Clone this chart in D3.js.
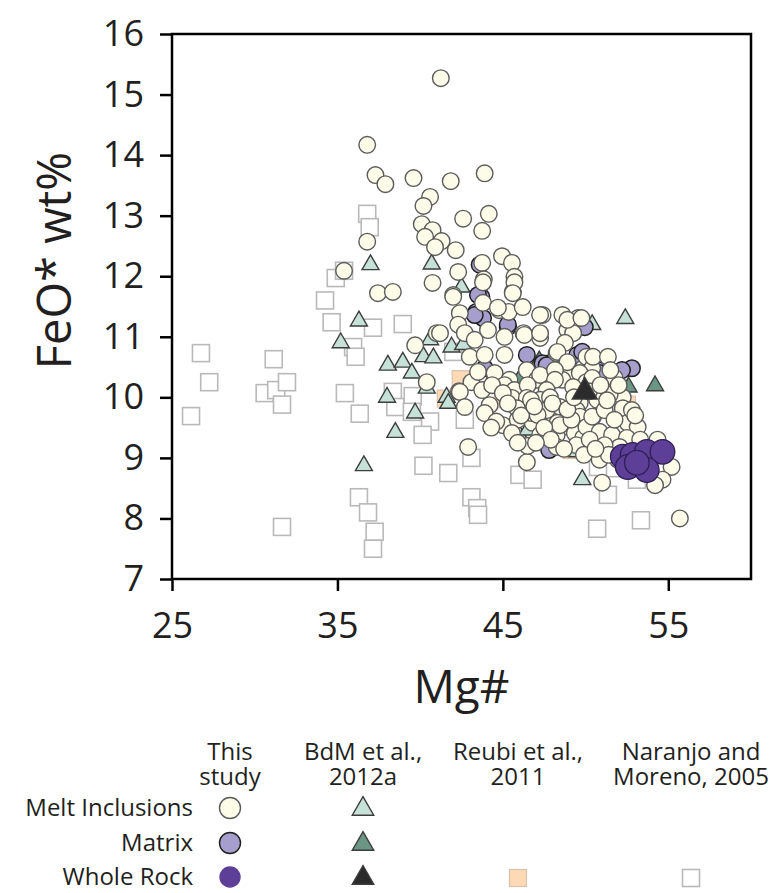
<!DOCTYPE html>
<html>
<head>
<meta charset="utf-8">
<script src="https://cdn.jsdelivr.net/npm/d3@7"></script>
<style>
  body { margin: 0; background: #fff; }
  text { font-family: "Open Sans", sans-serif; fill: #231f20; }
</style>
</head>
<body>
<svg id="chart" width="778" height="893"></svg>
<script>

/*************************************/
/*            Chart data             */
/*************************************/
const xTicks = [25, 35, 45, 55];
const yTicks = [7, 8, 9, 10, 11, 12, 13, 14, 15, 16];

// [Mg#, FeO*] pairs
const meltInclusions = [
  [41.25,15.27],[36.8,14.17],[37.3,13.67],[37.9,13.52],[39.6,13.62],[41.85,13.57],[43.9,13.7],
  [40.6,13.31],[40.2,13.16],[42.6,12.95],[44.15,13.03],[43.75,12.75],[40.1,12.86],[40.75,12.76],
  [40.3,12.65],[41.3,12.58],[40.9,12.48],[42.15,12.43],[36.8,12.57],[35.4,12.09],[44.95,12.33],
  [45.55,12.22],[45.7,11.99],[45.6,11.74],[43.75,12.22],[42.3,12.07],[43.85,11.95],[40.75,11.89],
  [37.45,11.72],[38.35,11.74],[42.0,11.69],
  [42.4,11.39],[43.8,11.56],[44.8,11.44],[45.35,11.41],[46.2,11.49],[47.4,11.36],[48.6,11.36],
  [49.55,11.31],[42.3,11.2],[42.7,11.06],[41.0,11.06],[39.7,10.86],[43.3,10.95],[45.1,11.0],
  [46.25,11.06],[47.25,10.98],[48.9,11.11],[49.25,11.06],[43.0,10.67],[43.9,10.7],[45.1,10.7],
  [46.45,10.45],[48.25,10.73],[47.85,10.34],[49.05,10.4],[49.85,10.48],[40.4,10.25],[42.35,10.1],
  [43.1,10.25],[43.5,10.42],[44.5,10.29],[44.95,10.15],[46.15,10.07],[47.05,10.29],[48.6,10.29],
  [49.55,10.12],
  [43.8,11.9],[45.7,11.9],[42.0,11.66],[45.6,11.72],[44.7,11.48],[47.25,11.36],[48.9,11.28],
  [44.1,11.11],[46.3,11.03],[47.25,11.06],[48.75,10.9],[41.2,11.06],
  [48.3,10.75],[48.9,10.58],[50.05,10.67],[50.4,10.48],[47.25,10.37],[48.15,10.45],[44.5,10.4],
  [45.4,10.29],[48.15,10.29],[49.65,10.4],[50.05,10.25],[49.25,10.17],
  [42.4,10.09],[43.75,10.12],[45.1,10.2],[45.7,10.12],[46.5,10.2],[47.65,10.12],[44.2,9.87],
  [42.7,9.84],[45.55,9.99],[46.45,9.99],[47.25,9.96],[47.85,10.0],[48.45,9.84],[49.65,9.91],
  [50.7,9.96],[43.9,9.74],[45.85,9.82],[47.05,9.74],[49.05,9.68],[49.45,9.79],
  [45.0,9.54],[45.9,9.63],[46.8,9.58],[47.85,9.63],[48.6,9.51],[49.85,9.58],[50.45,9.68],
  [45.55,9.41],[47.25,9.38],[48.25,9.38],[50.25,9.38],
  [44.35,10.2],[45.0,10.07],[46.7,9.96],[46.75,9.74],[47.65,9.79],[48.3,9.58],[49.65,9.68],
  [49.35,9.41],[49.85,9.33],[48.25,9.18],[42.9,9.18],[46.45,8.93],
  [47.1,9.71],[48.45,9.54],[49.15,9.63],[49.45,9.21],[50.05,9.51],[50.45,9.25],[50.85,8.97],
  [51.0,8.59],
  [49.75,11.31],[50.45,10.67],[51.35,10.67],[51.75,10.32],[50.4,10.32],[52.25,10.0],[52.25,9.82],
  [52.55,9.58],[53.15,9.51],[50.4,9.68],[50.85,9.43],[50.25,9.3],[51.6,9.38],[52.5,9.33],
  [52.05,9.18],[51.15,9.21],[54.35,9.3],[55.2,8.85],[54.65,8.64],[54.2,8.55],[55.7,8.0],
  [51.45,10.04],[51.15,9.79],[51.75,9.63],[52.8,9.79],[53.3,9.3],[51.95,8.97],
  [44.6,9.6],[45.3,9.9],[46.1,9.7],[46.9,9.85],[47.5,9.5],[48.0,9.9],[48.9,9.8],[49.3,10.0],
  [50.2,10.1],[50.9,10.2],[51.3,9.95],[46.5,9.2],[47.9,9.3],[48.7,9.15],[49.9,9.05],[51.4,9.05],
  [44.3,9.5],[45.9,9.25],[47.0,9.25],[50.6,9.15],[53.0,9.7],[52.0,10.2],[51.5,10.45]
];

const matrix = [
  [43.6,12.19],[43.7,11.66],[43.4,11.41],[43.8,11.31],[45.3,11.16],[46.45,10.7],[47.8,10.56],
  [47.4,10.56],[49.5,10.7],[49.95,11.16],[43.9,10.48],[43.5,11.69],[43.3,11.36],[45.3,11.2],
  [47.65,10.53],[49.8,10.75],[50.75,10.45],[52.8,10.48],[52.2,10.45],[50.85,10.4],[47.8,9.13]
];

const wholeRock = [
  [52.25,9.02],[52.85,9.05],[53.7,9.1],[54.65,9.1],[52.55,8.85],[53.7,8.8],[53.1,8.92]
];

const bdmMelt = [
  [37.0,12.19],[36.3,11.26],[35.2,10.9],[36.6,8.87],[40.7,12.2],[42.5,11.82],[38.05,10.53],
  [38.95,10.58],[39.5,10.4],[40.2,10.67],[40.8,10.65],[41.9,10.83],[42.6,10.87],[40.4,10.15],
  [40.6,10.95],[41.6,10.0],[38.0,10.0],[39.7,9.74],[38.5,9.42],[41.7,9.9],[46.0,9.38],
  [46.5,9.46],[49.8,8.64],[50.4,11.2],[52.4,11.3],[49.5,9.1]
];

const bdmMatrix = [
  [52.6,10.17],[54.2,10.19],[46.0,10.3],[47.2,10.6]
];

const bdmWholeRock = [
  [49.95,10.09]
];

const reubi = [
  [41.55,9.98],[42.45,10.3],[45.0,9.97],[49.15,9.13],[50.95,9.91],[51.15,10.07],[52.5,9.88],
  [52.65,9.63]
];

const naranjo = [
  [26.15,9.69],[26.75,10.73],[27.25,10.25],[30.6,10.07],[31.3,10.12],[31.15,10.63],[31.95,10.25],
  [31.65,9.88],[31.65,7.86],[34.25,11.6],[34.65,11.24],[34.9,11.97],[35.4,12.09],[35.45,10.07],
  [35.95,10.83],[36.1,10.67],[36.8,13.03],[36.95,12.81],[36.35,9.73],[37.15,11.15],[36.3,8.35],
  [36.85,8.1],[37.25,7.78],[37.15,7.5],[38.35,10.09],[39.55,10.02],[38.5,9.84],[39.5,9.76],
  [40.6,9.6],[40.15,9.38],[42.7,9.63],[43.1,9.0],[40.2,8.87],[41.7,8.75],[46.0,8.72],[46.8,8.64],
  [43.1,8.35],[43.45,8.17],[43.5,8.06],[50.7,7.83],[51.35,8.39],[53.35,7.97],[53.1,8.64],
  [51.6,8.83],[50.75,8.85],[51.65,9.84],[38.95,11.21],[42.0,10.75]
];

/*************************************/
/*          Layout + scales          */
/*************************************/
const svg = d3.select("#chart");

const plot = { left: 172, top: 34, right: 751, bottom: 579 };

const xScale = d3.scaleLinear()
  .domain([25, 60])
  .range([plot.left, plot.right]);

const yScale = d3.scaleLinear()
  .domain([7, 16])
  .range([plot.bottom, plot.top]);

const triangle = size => d3.symbol().type(d3.symbolTriangle).size(size)();

/*************************************/
/*              Axes                 */
/*************************************/
const yAxis = svg.append("g")
  .attr("transform", `translate(${plot.left},0)`)
  .call(d3.axisLeft(yScale).tickValues(yTicks).tickSize(12).tickPadding(16));

const xAxis = svg.append("g")
  .attr("transform", `translate(0,${plot.bottom})`)
  .call(d3.axisBottom(xScale).tickValues(xTicks).tickSize(12).tickPadding(21));

[yAxis, xAxis].forEach(ax => {
  ax.select(".domain").remove();
  ax.selectAll(".tick line").attr("stroke", "#000").attr("stroke-width", 2.5);
  ax.selectAll(".tick text")
    .attr("fill", "#231f20")
    .style("font-family", "'Open Sans', sans-serif")
    .style("font-size", "36px");
});

svg.append("text")
  .attr("transform", `translate(71,${(plot.top + plot.bottom) / 2 - 46}) rotate(-90)`)
  .attr("text-anchor", "middle")
  .style("font-size", "47px")
  .text("FeO* wt%");

svg.append("text")
  .attr("x", (plot.left + plot.right) / 2)
  .attr("y", 703)
  .attr("text-anchor", "middle")
  .style("font-size", "46px")
  .text("Mg#");

/*************************************/
/*              Marks                */
/*************************************/
const marks = svg.append("g");

marks.selectAll(".naranjo")
  .data(naranjo)
  .join("rect")
    .attr("x", d => xScale(d[0]) - 8.5)
    .attr("y", d => yScale(d[1]) - 8.5)
    .attr("width", 17)
    .attr("height", 17)
    .attr("fill", "#fff")
    .attr("stroke", "#b9b9bb")
    .attr("stroke-width", 1.6);

marks.selectAll(".reubi")
  .data(reubi)
  .join("rect")
    .attr("x", d => xScale(d[0]) - 8.5)
    .attr("y", d => yScale(d[1]) - 8.5)
    .attr("width", 17)
    .attr("height", 17)
    .attr("fill", "#fdd9b6")
    .attr("stroke", "#d9c3ad")
    .attr("stroke-width", 1.2);

const drawTriangles = (data, fill, size) => {
  marks.append("g").selectAll("path")
    .data(data)
    .join("path")
      .attr("d", triangle(size))
      .attr("transform", d => `translate(${xScale(d[0])},${yScale(d[1])})`)
      .attr("fill", fill)
      .attr("stroke", "#3d3d3d")
      .attr("stroke-width", 1.4);
};

drawTriangles(bdmMelt, "#c6e2d8", 125);
drawTriangles(bdmMatrix, "#6b9584", 125);

const drawCircles = (data, r, fill, stroke, sw) => {
  marks.append("g").selectAll("circle")
    .data(data)
    .join("circle")
      .attr("cx", d => xScale(d[0]))
      .attr("cy", d => yScale(d[1]))
      .attr("r", r)
      .attr("fill", fill)
      .attr("stroke", stroke)
      .attr("stroke-width", sw);
};

drawCircles(matrix, 8.3, "#a69ecc", "#1e1e1e", 1.5);
drawCircles(meltInclusions, 8.3, "#fcfce9", "#5b5b5b", 1.4);
drawCircles(wholeRock, 12.3, "#5d3f97", "#2e1f55", 1.3);
drawTriangles(bdmWholeRock, "#2b2b2b", 270);

// frame on top
svg.append("rect")
  .attr("x", plot.left)
  .attr("y", plot.top)
  .attr("width", plot.right - plot.left)
  .attr("height", plot.bottom - plot.top)
  .attr("fill", "none")
  .attr("stroke", "#000")
  .attr("stroke-width", 2.5);

/*************************************/
/*              Legend               */
/*************************************/
const columns = [
  { x: 230, lines: ["This", "study"] },
  { x: 363, lines: ["BdM et al.,", "2012a"] },
  { x: 518, lines: ["Reubi et al.,", "2011"] },
  { x: 691, lines: ["Naranjo and", "Moreno, 2005"] }
];
const rows = [
  { label: "Melt Inclusions", y: 808 },
  { label: "Matrix", y: 843 },
  { label: "Whole Rock", y: 877 }
];

const legend = svg.append("g").style("font-size", "24px");

columns.forEach(c => {
  legend.selectAll(null)
    .data(c.lines)
    .join("text")
      .attr("x", c.x)
      .attr("y", (_, i) => 760 + i * 25)
      .attr("text-anchor", "middle")
      .text(d => d);
});

legend.selectAll(".row-label")
  .data(rows)
  .join("text")
    .attr("x", 193)
    .attr("y", d => d.y)
    .attr("dy", "0.35em")
    .attr("text-anchor", "end")
    .style("font-size", "24px")
    .text(d => d.label);

const legendCircles = [
  { fill: "#fcfce9", stroke: "#5b5b5b", r: 10.5 },
  { fill: "#a69ecc", stroke: "#1e1e1e", r: 10.5 },
  { fill: "#5d3f97", stroke: "#5d3f97", r: 10 }
];
legend.selectAll(".lg-circle")
  .data(legendCircles)
  .join("circle")
    .attr("cx", columns[0].x)
    .attr("cy", (_, i) => rows[i].y)
    .attr("r", d => d.r)
    .attr("fill", d => d.fill)
    .attr("stroke", d => d.stroke)
    .attr("stroke-width", 1.4);

const legendTriangles = ["#c6e2d8", "#6b9584", "#2b2b2b"];
legend.selectAll(".lg-tri")
  .data(legendTriangles)
  .join("path")
    .attr("d", triangle(200))
    .attr("transform", (_, i) => `translate(${columns[1].x},${rows[i].y + 1})`)
    .attr("fill", d => d)
    .attr("stroke", "#3d3d3d")
    .attr("stroke-width", 1.4);

legend.append("rect")
  .attr("x", columns[2].x - 8.5).attr("y", rows[2].y - 7.5)
  .attr("width", 17).attr("height", 17)
  .attr("fill", "#fdd9b6").attr("stroke", "#d9c3ad").attr("stroke-width", 1.2);

legend.append("rect")
  .attr("x", columns[3].x - 8.5).attr("y", rows[2].y - 7.5)
  .attr("width", 17).attr("height", 17)
  .attr("fill", "#fff").attr("stroke", "#b9b9bb").attr("stroke-width", 1.6);

</script>
</body>
</html>
